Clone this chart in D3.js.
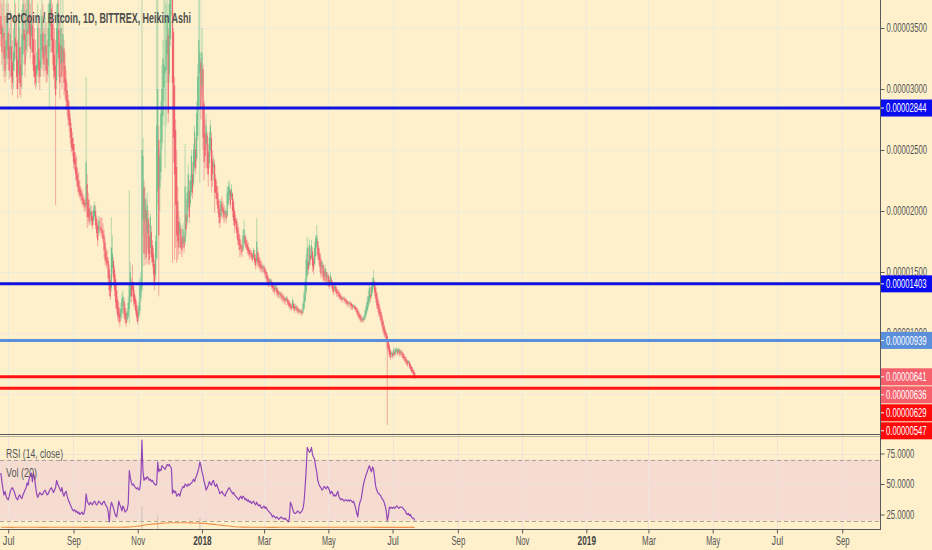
<!DOCTYPE html>
<html><head><meta charset="utf-8">
<script src="https://cdn.jsdelivr.net/npm/d3@7"></script>
<style>
html,body{margin:0;padding:0;background:#fdf0cb;}
svg{display:block;}
text{font-family:"Liberation Sans Narrow","Arial Narrow","Liberation Sans",sans-serif;}
</style></head><body>
<svg id="chart" width="932" height="550"></svg>
<script>
// ---------------- DATA ----------------
const title = "PotCoin / Bitcoin, 1D, BITTREX, Heikin Ashi";
const rsiLegend = "RSI (14, close)";
const volLegend = "Vol (20)";
const firstCandle = [2017, 5, 24];          // 24 Jun 2017, one candle per day
const priceUnit = 1e-8;                      // prices below are in satoshi

// Heikin Ashi daily candles: [open, high, low, close] (satoshi)
const ohlc = [
[3600,3950,3350,3450],[3520,3700,3200,3300],[3420,3800,3150,3500],[3460,3900,3100,3250],[3350,3600,3050,3150],
[3250,3700,3100,3400],[3320,3850,3200,3600],[3460,3700,3150,3250],[3350,3500,3080,3150],[3250,3650,3100,3450],
[3350,3600,3000,3100],[3220,3400,2950,3050],[3150,3500,3000,3300],[3230,3800,3150,3600],[3420,3700,3250,3350],
[3380,3600,3000,3100],[3240,3400,2920,3000],[3120,3800,3050,3550],[3340,3500,2950,3050],[3200,3350,2930,3020],
[3110,3650,3000,3450],[3280,3900,3200,3700],[3490,3850,3300,3400],[3450,3700,3100,3200],[3320,3900,3250,3650],
[3480,3800,3300,3450],[3470,4000,3350,3750],[3610,3900,3350,3450],[3530,3700,3250,3330],[3430,3850,3300,3600],
[3520,3750,3200,3300],[3410,3600,3100,3150],[3280,3500,3030,3100],[3190,3400,3000,3050],[3120,3300,3020,3200],
[3160,3700,3100,3500],[3330,3600,3050,3150],[3240,3500,2990,3100],[3170,3650,3100,3450],[3310,3800,3200,3600],
[3460,3700,3150,3250],[3350,3500,3100,3200],[3280,3600,3150,3450],[3360,3550,3050,3150],[3250,3400,3060,3120],
[3190,3700,3100,3500],[3350,4100,2840,3700],[3520,4200,3300,3800],[3660,3900,3300,3400],[3530,3700,3200,3300],
[3410,3550,3080,3150],[3280,3500,3000,3100],[3190,3400,2050,2950],[3070,3700,3000,3500],[3290,4000,3200,3700],
[3490,3900,3100,3250],[3370,3600,2920,3050],[3210,3850,3100,3500],[3350,3500,3000,3100],[3220,3900,3150,3450],
[3330,3400,2950,3050],[3190,3300,2920,2980],[3080,3150,2850,2900],[2990,3050,2780,2830],[2910,2950,2700,2750],
[2830,2900,2650,2700],[2760,2800,2550,2600],[2680,2720,2480,2520],[2600,2650,2450,2500],[2550,2600,2350,2400],
[2480,2550,2330,2380],[2430,2480,2250,2300],[2360,2450,2200,2250],[2300,2350,2150,2200],[2250,2320,2120,2160],
[2200,2250,2100,2130],[2170,2200,2080,2120],[2140,2180,2050,2090],[2110,2150,2030,2060],[2090,2120,2000,2050],
[2070,2100,1990,2030],[2050,3100,2010,2400],[2220,2300,1860,1950],[2090,2150,1900,1950],[2020,2100,1880,1920],
[1970,2050,1900,2000],[1990,2040,1880,1920],[1960,2000,1850,1880],[1920,2050,1890,2010],[1960,2080,1930,2040],
[2000,2050,1850,1880],[1940,1960,1780,1820],[1880,1900,1710,1760],[1820,1960,1800,1920],[1870,1950,1830,1860],
[1865,1940,1800,1840],[1850,1950,1780,1820],[1835,1900,1740,1770],[1800,1850,1620,1680],[1740,1780,1560,1600],
[1670,1700,1540,1580],[1620,1680,1520,1560],[1590,1620,1400,1450],[1520,1560,1300,1350],[1430,1480,1270,1300],
[1370,1950,1340,1700],[1530,1800,1480,1650],[1590,1620,1400,1450],[1520,1550,1300,1350],[1440,1480,1200,1250],
[1350,1400,1160,1200],[1270,1300,1100,1140],[1210,1250,1080,1120],[1165,1200,1050,1090],[1130,1250,1100,1200],
[1165,1330,1120,1280],[1220,1350,1180,1300],[1260,1290,1120,1150],[1205,1240,1080,1110],[1160,1180,1050,1080],
[1110,1200,1090,1170],[1140,1300,1120,1250],[1195,2170,1080,1400],[1300,1580,1250,1500],[1400,1450,1250,1300],
[1420,1560,1300,1350],[1385,1420,1220,1260],[1320,1350,1200,1240],[1280,1300,1150,1180],[1230,1260,1100,1130],
[1180,1200,1066,1090],[1135,1250,1110,1220],[1180,1450,1150,1400],[1290,1500,1260,1420],[1355,4300,1340,2500],
[1930,2600,1800,2450],[2190,2250,1550,1650],[1920,2200,1600,2100],[2010,2100,1560,1620],[1820,2150,1700,2050],
[1935,2000,1560,1650],[1790,1900,1560,1600],[1700,1980,1650,1950],[1825,1880,1580,1620],[1720,1760,1540,1580],
[1650,1700,1420,1480],[1565,1600,1350,1400],[1480,1800,1440,1750],[1615,4500,1600,2700],[2160,3900,2050,3000],
[2580,2700,1300,1800],[2190,2500,2000,2450],[2320,2900,2250,2800],[2560,3200,2500,3000],[2780,3400,2700,3250],
[3015,4200,2900,3200],[3130,4000,2350,3180],[3155,3700,2700,3400],[3280,4100,3050,3600],[3440,3500,2720,2800],
[3120,4300,3050,3700],[3410,4600,3350,4100],[3755,4400,3600,4000],[3880,3950,1574,3050],[3465,3500,2400,2600],
[3030,3100,1600,2300],[2665,2750,1700,2050],[2360,2500,1574,1800],[2080,2200,1600,1750],[1915,2000,1640,1700],
[1810,1950,1700,1900],[1855,1880,1650,1700],[1780,1800,1620,1680],[1730,1900,1700,1850],[1790,1820,1656,1700],
[1745,2550,1720,2200],[1970,2100,1800,1850],[1910,2200,1880,2150],[2030,2380,2000,2300],[2165,2250,1900,1950],
[2060,2300,2030,2250],[2155,2500,2120,2450],[2300,2400,2100,2150],[2225,2550,2200,2500],[2360,2700,2330,2650],
[2505,2600,2300,2350],[2430,2900,2400,2800],[2615,3200,2580,3100],[2860,3800,2830,3400],[3130,4400,2230,3300],
[3215,3250,2750,2850],[3030,3500,2950,3300],[3165,3200,2500,2600],[2880,2900,2250,2400],[2640,2750,2350,2450],
[2545,2800,2500,2700],[2620,2650,2300,2350],[2485,2550,2200,2300],[2390,2650,2350,2600],[2495,2750,2450,2700],
[2600,2650,2150,2250],[2425,2500,2200,2300],[2360,2450,2250,2400],[2380,2420,1984,2150],[2265,2300,2100,2150],
[2205,2250,2050,2100],[2150,2200,1980,2020],[2085,2100,1900,1950],[2015,2050,1861,1900],[1960,2100,1940,2080],
[2060,2120,1950,2000],[2030,2080,1930,1980],[2005,2050,1900,1950],[1978,2030,1920,2000],[1990,2010,1900,1940],
[1965,2200,1950,2150],[2060,2240,2040,2200],[2130,2250,2090,2200],[2165,2180,2020,2050],[2110,2220,2090,2180],
[2145,2150,1950,2000],[2075,2100,1880,1920],[2000,2020,1820,1880],[1940,1970,1850,1900],[1920,1940,1780,1820],
[1870,1900,1720,1760],[1815,1850,1680,1720],[1770,1800,1623,1680],[1725,1760,1640,1700],[1710,1730,1620,1660],
[1685,1850,1670,1800],[1740,1930,1720,1850],[1795,1810,1700,1730],[1760,1780,1680,1700],[1730,1760,1650,1680],
[1705,1740,1630,1660],[1680,1700,1600,1640],[1660,1690,1623,1650],[1655,1680,1600,1620],[1640,1660,1580,1600],
[1620,1700,1600,1680],[1650,1680,1560,1580],[1615,1640,1520,1550],[1585,1943,1560,1750],[1665,1700,1540,1580],
[1620,1650,1530,1560],[1590,1620,1510,1540],[1565,1600,1500,1530],[1550,1580,1492,1520],[1535,1560,1500,1550],
[1542,1560,1480,1500],[1521,1540,1450,1480],[1500,1520,1420,1450],[1475,1500,1400,1430],[1450,1470,1377,1410],
[1430,1450,1380,1400],[1415,1450,1400,1440],[1425,1440,1360,1380],[1400,1420,1340,1370],[1385,1400,1330,1360],
[1370,1390,1310,1340],[1355,1400,1340,1390],[1370,1390,1300,1330],[1350,1370,1290,1320],[1335,1350,1280,1310],
[1320,1340,1290,1330],[1325,1340,1271,1300],[1310,1330,1260,1290],[1300,1320,1250,1280],[1290,1310,1240,1270],
[1280,1290,1230,1260],[1270,1300,1260,1290],[1280,1300,1230,1250],[1265,1280,1210,1230],[1250,1270,1200,1220],
[1235,1250,1190,1210],[1220,1240,1180,1200],[1210,1290,1200,1270],[1240,1260,1180,1200],[1220,1240,1164,1190],
[1205,1240,1180,1220],[1212,1230,1170,1190],[1200,1220,1160,1180],[1190,1200,1150,1170],[1180,1200,1164,1190],
[1185,1200,1150,1165],[1175,1190,1140,1160],[1168,1260,1160,1240],[1204,1350,1190,1320],[1262,1450,1250,1420],
[1341,1650,1320,1600],[1470,1787,1450,1700],[1585,1700,1480,1520],[1552,1770,1530,1720],[1636,1700,1560,1600],
[1618,1763,1600,1720],[1669,1700,1500,1550],[1610,1640,1480,1520],[1565,1750,1550,1700],[1632,1800,1620,1780],
[1706,1886,1690,1800],[1753,1770,1600,1640],[1696,1710,1560,1600],[1648,1660,1500,1540],[1594,1620,1450,1480],
[1537,1600,1490,1580],[1558,1570,1430,1460],[1509,1540,1400,1430],[1470,1560,1450,1530],[1500,1520,1400,1420],
[1460,1500,1390,1480],[1470,1490,1377,1400],[1435,1460,1360,1380],[1408,1500,1390,1470],[1439,1460,1370,1390],
[1415,1430,1330,1350],[1382,1400,1310,1340],[1361,1420,1340,1400],[1380,1400,1320,1340],[1360,1380,1295,1320],
[1340,1360,1300,1330],[1335,1350,1280,1300],[1318,1330,1270,1290],[1304,1320,1260,1280],[1292,1300,1246,1270],
[1281,1300,1270,1290],[1285,1300,1250,1270],[1278,1290,1240,1260],[1269,1280,1230,1250],[1260,1270,1220,1240],
[1250,1260,1210,1240],[1245,1260,1220,1250],[1248,1260,1200,1230],[1239,1250,1190,1220],[1230,1240,1189,1210],
[1220,1235,1195,1225],[1222,1230,1190,1200],[1211,1220,1170,1190],[1200,1210,1150,1170],[1185,1200,1130,1150],
[1168,1180,1110,1130],[1149,1160,1100,1120],[1135,1150,1082,1100],[1118,1130,1090,1120],[1119,1130,1082,1100],
[1110,1150,1100,1140],[1125,1200,1110,1180],[1152,1250,1140,1220],[1186,1300,1170,1260],[1223,1350,1200,1300],
[1262,1400,1240,1370],[1316,1380,1250,1290],[1303,1420,1280,1380],[1341,1459,1320,1420],[1380,1517,1360,1450],
[1415,1430,1300,1330],[1372,1390,1250,1280],[1326,1340,1200,1230],[1278,1300,1170,1200],[1239,1260,1131,1160],
[1200,1220,1110,1140],[1170,1180,1080,1100],[1135,1150,1040,1060],[1098,1110,1000,1020],[1059,1070,967,990],
[1025,1040,960,980],[1003,1010,930,950],[977,990,246,880],[929,940,840,860],[895,910,800,820],
[858,870,779,800],[829,850,800,840],[835,850,790,810],[822,880,810,860],[841,870,800,820],
[831,880,820,870],[850,885,840,870],[860,870,810,830],[845,880,830,870],[858,870,803,820],
[839,860,820,850],[845,860,800,815],[830,840,780,795],[812,830,770,790],[801,810,750,770],
[785,800,740,760],[772,780,721,740],[756,780,740,770],[763,770,710,725],[744,750,690,705],
[724,730,670,685],[704,720,660,680],[692,700,645,660],[676,680,625,629]
];

// RSI(14) per candle
const rsi14 = [
59,52,46,41,44,40,38,37,40,44, 46,47,45,43,40,38,37,40,41,39,
38,41,43,45,47,51,49,55,57,59, 52,59,55,48,42,39,41,43,42,41,
42,44,45,43,41,42,44,46,47,45, 43,45,47,53,50,48,46,44,47,42,
40,43,44,40,37,35,33,31,29,28, 29,27,28,26,27,25,26,27,25,26,
30,42,36,34,33,35,34,33,35,36, 34,33,34,36,35,34,33,35,36,34,
32,31,27,19,30,35,33,30,27,24, 23,29,36,33,31,28,32,30,27,28,
29,34,61,55,51,49,50,48,47,46, 47,45,46,55,86,60,53,55,54,56,
55,53,54,52,53,51,50,49,50,68, 60,62,61,65,64,63,62,64,66,65,
66,64,63,42,45,43,44,40,41,42, 40,44,46,48,47,50,49,48,50,49,
50,51,52,54,52,55,57,60,63,68, 65,60,57,52,49,45,47,49,52,50,
49,52,53,49,48,50,47,45,42,43, 44,42,41,40,43,44,46,47,45,44,
42,43,41,40,39,38,37,39,40,38, 40,39,37,38,36,37,35,36,34,35,
36,34,33,35,33,32,33,31,30,31, 32,30,31,29,28,27,26,25,23,24,
23,22,23,22,21,22,23,22,22,21, 22,21,20,19,22,35,33,30,27,26,
26,27,28,27,26,27,28,30,36,48, 62,80,78,76,77,80,74,72,70,64,
60,53,50,48,47,45,46,48,47,46, 48,47,45,42,44,43,40,41,40,42,
44,40,38,37,38,37,36,37,37,36, 37,36,37,36,35,36,33,30,26,23,
31,35,37,42,48,52,55,58,60,63, 65,62,60,64,62,55,48,45,43,42,
41,40,38,37,35,32,28,20,24,31, 30,31,30,31,30,31,32,31,30,31,
31,31,30,29,28,26,25,26,24,25, 23,22,22,20
];

// Volume MA(20) (relative units), sampled at candle indices
const volMADays = [0,10,20,30,40,50,60,70,80,90,100,110,120,130,140,150,160,170,180,190,200,210,220,230,240,250,260,270,280,290,300,310,320,330,340,350,360,370,380,390,393];
const volMA     = [3.4,3.3,3.5,3.4,3.3,3.4,3.5,3.4,3.3,3.4,3.5,3.6,3.8,5.5,9,11,12.4,12.6,12.2,11.8,9.8,7.2,5,3.8,3.5,3.4,3.3,3.4,3.4,3.3,3.4,3.5,3.4,3.4,3.5,3.4,3.3,3.3,3.2,3.2,3.2];
const volSpikeDays = [134,149,189];
const volSpikes    = [46,28,22];

// axes
const priceTicks = [500,1000,1500,2000,2500,3000,3500];
const rsiTicks = [25,50,75];
const rsiBands = [70,20];
const timeTickDates  = ["2017-07-01","2017-09-01","2017-11-01","2018-01-01","2018-03-01","2018-05-01","2018-07-01","2018-09-01","2018-11-01","2019-01-01","2019-03-01","2019-05-01","2019-07-01","2019-09-01"];
const timeTickLabels = ["Jul","Sep","Nov","2018","Mar","May","Jul","Sep","Nov","2019","Mar","May","Jul","Sep"];

// horizontal drawn levels (satoshi) and right-hand price labels
const levelValues = [2844,1403,939,641,547];
const levelColors = ["#1212e0","#1212e0","#5b8fdc","#ff1414","#ff1414"];
const tagValues = [2844,1403,939,641,636,629,547];
const tagColors = ["#0b0bf0","#0b0bf0","#5b8fdc","#f5606c","#f5606c","#ff0a0a","#ff0a0a"];

// ---------------- DRAW ----------------
const svg = d3.select("#chart");
const W = 932, H = 550, R = 880;
const paneTop = 0, paneBot = 434, rsiTop = 436, rsiBot = 529;
const bg = "#fdf0cb", gridCol = "#ecebdc", axisCol = "#5a5a5a", textCol = "#555";
const upCol = "#62bb86", downCol = "#ef5464";
// condensed look of the reference: fit texts to a width per character
const CH = 4.25;
function fitText(sel, perChar){
  sel.each(function(){
    const s = this.textContent;
    let w = 0;
    for (const ch of s) w += (ch === "." || ch === "," || ch === " " || ch === "/" || ch === "(" || ch === ")" || ch === "I" || ch === "i" || ch === "l") ? perChar*0.55 : perChar;
    this.setAttribute("textLength", w.toFixed(1));
    this.setAttribute("lengthAdjust", "spacingAndGlyphs");
  });
}

const DAY = 86400000;
const t0 = Date.UTC(firstCandle[0], firstCandle[1], firstCandle[2]);
const candleDate = i => new Date(t0 + i*DAY);
const tickDates = timeTickDates.map(s => new Date(s + "T00:00:00Z"));

const x = d3.scaleUtc().domain([tickDates[0], tickDates[tickDates.length-1]]).range([8.2, 842.2]);
const y = d3.scaleLinear().domain([1000, 3500]).range([333, 28]);
const ry = d3.scaleLinear().domain([25, 75]).range([514.5, 453.5]);
const vy = d3.scaleLinear().domain([0, 100]).range([rsiBot, rsiBot - 50]);

svg.append("rect").attr("width", W).attr("height", H).attr("fill", bg);

const defs = svg.append("defs");
defs.append("clipPath").attr("id","clipP").append("rect").attr("x",0).attr("y",paneTop).attr("width",R).attr("height",paneBot-paneTop);
defs.append("clipPath").attr("id","clipR").append("rect").attr("x",0).attr("y",rsiTop).attr("width",R).attr("height",rsiBot-rsiTop);

// grid
const grid = svg.append("g");
grid.selectAll("line.v").data(tickDates).join("line")
  .attr("x1", d => Math.round(x(d))+0.5).attr("x2", d => Math.round(x(d))+0.5)
  .attr("y1", 0).attr("y2", rsiBot).attr("stroke", gridCol).attr("stroke-width", 1);
grid.selectAll("line.h").data(priceTicks).join("line")
  .attr("x1", 0).attr("x2", R).attr("y1", d => Math.round(y(d))+0.5).attr("y2", d => Math.round(y(d))+0.5)
  .attr("stroke", gridCol).attr("stroke-width", 1);

// RSI pane
const rg = svg.append("g").attr("clip-path","url(#clipR)");
rg.append("rect").attr("x",0).attr("width",R).attr("y",ry(rsiBands[0])).attr("height",ry(rsiBands[1])-ry(rsiBands[0])).attr("fill","#f6dcd0");
rg.selectAll("line.vg").data(tickDates).join("line")
  .attr("x1", d => Math.round(x(d))+0.5).attr("x2", d => Math.round(x(d))+0.5)
  .attr("y1", rsiTop).attr("y2", rsiBot).attr("stroke", "#efe2dc").attr("stroke-width", 1);
rg.selectAll("line.rg").data(rsiTicks).join("line")
  .attr("x1",0).attr("x2",R).attr("y1",d=>Math.round(ry(d))+0.5).attr("y2",d=>Math.round(ry(d))+0.5)
  .attr("stroke","#efe2dc").attr("stroke-width",1);
rg.selectAll("line.band").data(rsiBands).join("line")
  .attr("x1",0).attr("x2",R).attr("y1",d=>Math.round(ry(d))+0.5).attr("y2",d=>Math.round(ry(d))+0.5)
  .attr("stroke","#aaa49c").attr("stroke-width",1).attr("stroke-dasharray","4,3");
// volume spikes
rg.selectAll("rect.vol").data(volSpikeDays).join("rect")
  .attr("x", d => x(candleDate(d))-0.6).attr("width",1.2)
  .attr("y", (d,i) => vy(volSpikes[i])).attr("height",(d,i)=> vy(0)-vy(volSpikes[i]))
  .attr("fill","#c9c2b4").attr("opacity",0.8);
rg.append("path").datum(volMADays)
  .attr("d", d3.line().x(d => x(candleDate(d))).y((d,i) => vy(volMA[i])).curve(d3.curveMonotoneX))
  .attr("fill","none").attr("stroke","#f0904a").attr("stroke-width",1.1);
rg.append("path").datum(rsi14)
  .attr("d", d3.line().x((d,i) => x(candleDate(i))).y(d => ry(d)))
  .attr("fill","none").attr("stroke","#9147b8").attr("stroke-width",1.2).attr("stroke-linejoin","round");

// candles
const candles = ohlc.map((r,i) => ({t:candleDate(i), o:r[0], h:r[1], l:r[2], c:r[3]}));
const cg = svg.append("g").attr("clip-path","url(#clipP)");
cg.selectAll("line.wick").data(candles).join("line")
  .attr("x1", d => x(d.t)).attr("x2", d => x(d.t))
  .attr("y1", d => y(d.h)).attr("y2", d => y(d.l))
  .attr("stroke", d => d.c >= d.o ? upCol : downCol).attr("stroke-opacity", 0.5).attr("stroke-width", 0.9);
cg.selectAll("rect.body").data(candles).join("rect")
  .attr("x", d => x(d.t) - 0.6).attr("width", 1.2)
  .attr("y", d => y(Math.max(d.o, d.c)))
  .attr("height", d => Math.max(1, Math.abs(y(d.o) - y(d.c))))
  .attr("fill", d => d.c >= d.o ? upCol : downCol).attr("fill-opacity", 0.8);

// horizontal levels
cg.selectAll("line.lvl").data(levelValues).join("line")
  .attr("x1",0).attr("x2",R).attr("y1",d=>y(d)).attr("y2",d=>y(d))
  .attr("stroke",(d,i)=>levelColors[i]).attr("stroke-width",3);

// frame lines
svg.append("line").attr("x1",0).attr("x2",R).attr("y1",paneBot+0.5).attr("y2",paneBot+0.5).attr("stroke",axisCol).attr("stroke-width",1);
svg.append("line").attr("x1",0).attr("x2",R).attr("y1",paneBot+2.5).attr("y2",paneBot+2.5).attr("stroke","#b9b0a0").attr("stroke-width",1);
svg.append("line").attr("x1",0).attr("x2",R+0.5).attr("y1",rsiBot+0.5).attr("y2",rsiBot+0.5).attr("stroke",axisCol).attr("stroke-width",1);
svg.append("line").attr("x1",R+0.5).attr("x2",R+0.5).attr("y1",0).attr("y2",rsiBot+1).attr("stroke",axisCol).attr("stroke-width",1);

// axes
function styleAxis(g){
  g.select(".domain").remove();
  g.selectAll(".tick line").attr("stroke", axisCol);
  g.selectAll(".tick text").attr("fill", textCol).attr("font-size", 12)
    .attr("font-family", '"Liberation Sans Narrow","Arial Narrow","Liberation Sans",sans-serif');
}
const gx = svg.append("g").attr("transform", `translate(0,${rsiBot+0.5})`)
  .call(d3.axisBottom(x).tickValues(tickDates).tickFormat((d,i) => timeTickLabels[i]).tickSize(4).tickPadding(3));
styleAxis(gx);
gx.selectAll(".tick text").filter((d,i) => /^\d{4}$/.test(timeTickLabels[i])).attr("font-weight","bold").attr("fill","#444");
fitText(gx.selectAll(".tick text"), 4.6);

const gy = svg.append("g").attr("transform", `translate(${R+0.5},0)`)
  .call(d3.axisRight(y).tickValues(priceTicks).tickFormat(d => (d*priceUnit).toFixed(8)).tickSize(4).tickPadding(2));
styleAxis(gy);
fitText(gy.selectAll(".tick text"), CH);

const gr = svg.append("g").attr("transform", `translate(${R+0.5},0)`)
  .call(d3.axisRight(ry).tickValues(rsiTicks).tickFormat(d => d.toFixed(4)).tickSize(4).tickPadding(2));
styleAxis(gr);
fitText(gr.selectAll(".tick text"), CH);

// price tags (pushed apart like the platform does)
const tagH = 17, tagGap = 18;
const tags = tagValues.map((v,i) => ({v, col: tagColors[i], yy: y(v)})).sort((a,b) => a.yy - b.yy);
for (let k = 1; k < tags.length; k++) if (tags[k].yy < tags[k-1].yy + tagGap) tags[k].yy = tags[k-1].yy + tagGap;
const tg = svg.append("g");
tags.forEach(t => {
  tg.append("rect").attr("x", R+1).attr("y", t.yy - tagH/2).attr("width", W-R-1).attr("height", tagH).attr("fill", t.col);
  tg.append("line").attr("x1",R+1).attr("x2",R+4).attr("y1",t.yy).attr("y2",t.yy).attr("stroke","#fff").attr("stroke-width",1);
  const tx = tg.append("text").attr("x", R+6).attr("y", t.yy).attr("dy","0.36em").attr("fill","#fff").attr("font-size",12)
    .text((t.v*priceUnit).toFixed(8));
  fitText(tx, CH);
});

// title & legends
const tt = svg.append("text").attr("x",6).attr("y",23).attr("font-size",14).attr("font-weight","bold").attr("fill","#4e4e4e").text(title);
tt.attr("textLength", 185).attr("lengthAdjust","spacingAndGlyphs");
const l1 = svg.append("text").attr("x",6).attr("y",458).attr("font-size",12.5).attr("fill","#555").text(rsiLegend);
const l2 = svg.append("text").attr("x",6).attr("y",477).attr("font-size",12.5).attr("fill","#555").text(volLegend);
l1.attr("textLength", 57).attr("lengthAdjust","spacingAndGlyphs");
l2.attr("textLength", 31).attr("lengthAdjust","spacingAndGlyphs");
</script>
</body></html>
